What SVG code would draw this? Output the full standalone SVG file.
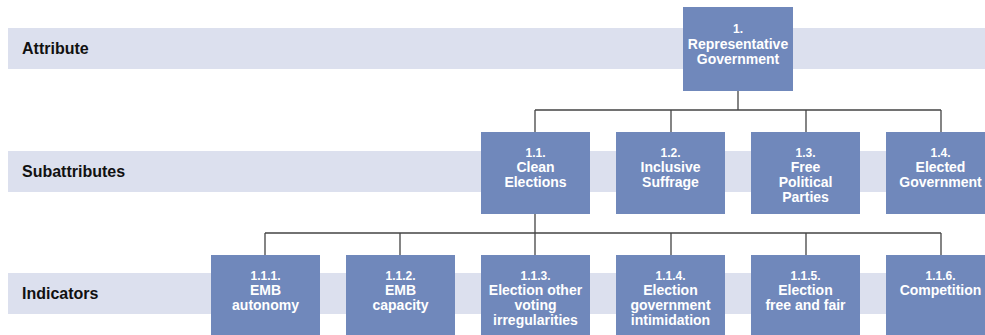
<svg xmlns="http://www.w3.org/2000/svg" width="985" height="335" viewBox="0 0 985 335">
<style>
.band{fill:#dce0ee}
.lbl{font-family:"Liberation Sans",Arial,sans-serif;font-weight:bold;font-size:16px;fill:#111}
.box{fill:#7088bb}
.t{font-family:"Liberation Sans",Arial,sans-serif;font-weight:bold;font-size:14px;fill:#fff;text-anchor:middle}
.n{font-size:12px}
.con{stroke:#444;stroke-width:1.3;fill:none}
</style>
<rect width="985" height="335" fill="#fff"/>
<g id="bands">
<rect class="band" x="8" y="28" width="977" height="41"/>
<rect class="band" x="8" y="151" width="977" height="41"/>
<rect class="band" x="8" y="273" width="977" height="41"/>
<text class="lbl" x="22" y="54">Attribute</text>
<text class="lbl" x="22" y="177">Subattributes</text>
<text class="lbl" x="22" y="299">Indicators</text>
</g>
<g id="connectors">
<path class="con" d="M738 91V110M535 110H941M535 110V132M671 110V132M806 110V132M941 110V132"/>
<path class="con" d="M535 214V233M265 233H941M265 233V255M400 233V255M535 233V255M671 233V255M806 233V255M941 233V255"/>
</g>
<g id="n1"><rect class="box" x="683" y="7" width="110" height="84"/>
<text class="t" x="738"><tspan class="n" x="738" y="33">1.</tspan><tspan x="738" y="49">Representative</tspan><tspan x="738" y="64">Government</tspan></text></g>
<g id="n1_1"><rect class="box" x="481" y="132" width="109" height="82"/>
<text class="t"><tspan class="n" x="535.5" y="157">1.1.</tspan><tspan x="535.5" y="172">Clean</tspan><tspan x="535.5" y="187">Elections</tspan></text></g>
<g id="n1_2"><rect class="box" x="616" y="132" width="109" height="82"/>
<text class="t"><tspan class="n" x="670.5" y="157">1.2.</tspan><tspan x="670.5" y="172">Inclusive</tspan><tspan x="670.5" y="187">Suffrage</tspan></text></g>
<g id="n1_3"><rect class="box" x="751" y="132" width="109" height="82"/>
<text class="t"><tspan class="n" x="805.5" y="157">1.3.</tspan><tspan x="805.5" y="172">Free</tspan><tspan x="805.5" y="187">Political</tspan><tspan x="805.5" y="202">Parties</tspan></text></g>
<g id="n1_4"><rect class="box" x="886" y="132" width="109" height="82"/>
<text class="t"><tspan class="n" x="940.5" y="157">1.4.</tspan><tspan x="940.5" y="172">Elected</tspan><tspan x="940.5" y="187">Government</tspan></text></g>
<g id="n1_1_1"><rect class="box" x="211" y="255" width="109" height="85"/>
<text class="t"><tspan class="n" x="265.5" y="280">1.1.1.</tspan><tspan x="265.5" y="295">EMB</tspan><tspan x="265.5" y="310">autonomy</tspan></text></g>
<g id="n1_1_2"><rect class="box" x="346" y="255" width="109" height="85"/>
<text class="t"><tspan class="n" x="400.5" y="280">1.1.2.</tspan><tspan x="400.5" y="295">EMB</tspan><tspan x="400.5" y="310">capacity</tspan></text></g>
<g id="n1_1_3"><rect class="box" x="481" y="255" width="109" height="85"/>
<text class="t"><tspan class="n" x="535.5" y="280">1.1.3.</tspan><tspan x="535.5" y="295">Election other</tspan><tspan x="535.5" y="310">voting</tspan><tspan x="535.5" y="325">irregularities</tspan></text></g>
<g id="n1_1_4"><rect class="box" x="616" y="255" width="109" height="85"/>
<text class="t"><tspan class="n" x="670.5" y="280">1.1.4.</tspan><tspan x="670.5" y="295">Election</tspan><tspan x="670.5" y="310">government</tspan><tspan x="670.5" y="325">intimidation</tspan></text></g>
<g id="n1_1_5"><rect class="box" x="751" y="255" width="109" height="85"/>
<text class="t"><tspan class="n" x="805.5" y="280">1.1.5.</tspan><tspan x="805.5" y="295">Election</tspan><tspan x="805.5" y="310">free and fair</tspan></text></g>
<g id="n1_1_6"><rect class="box" x="886" y="255" width="109" height="85"/>
<text class="t"><tspan class="n" x="940.5" y="280">1.1.6.</tspan><tspan x="940.5" y="295">Competition</tspan></text></g>
</svg>
